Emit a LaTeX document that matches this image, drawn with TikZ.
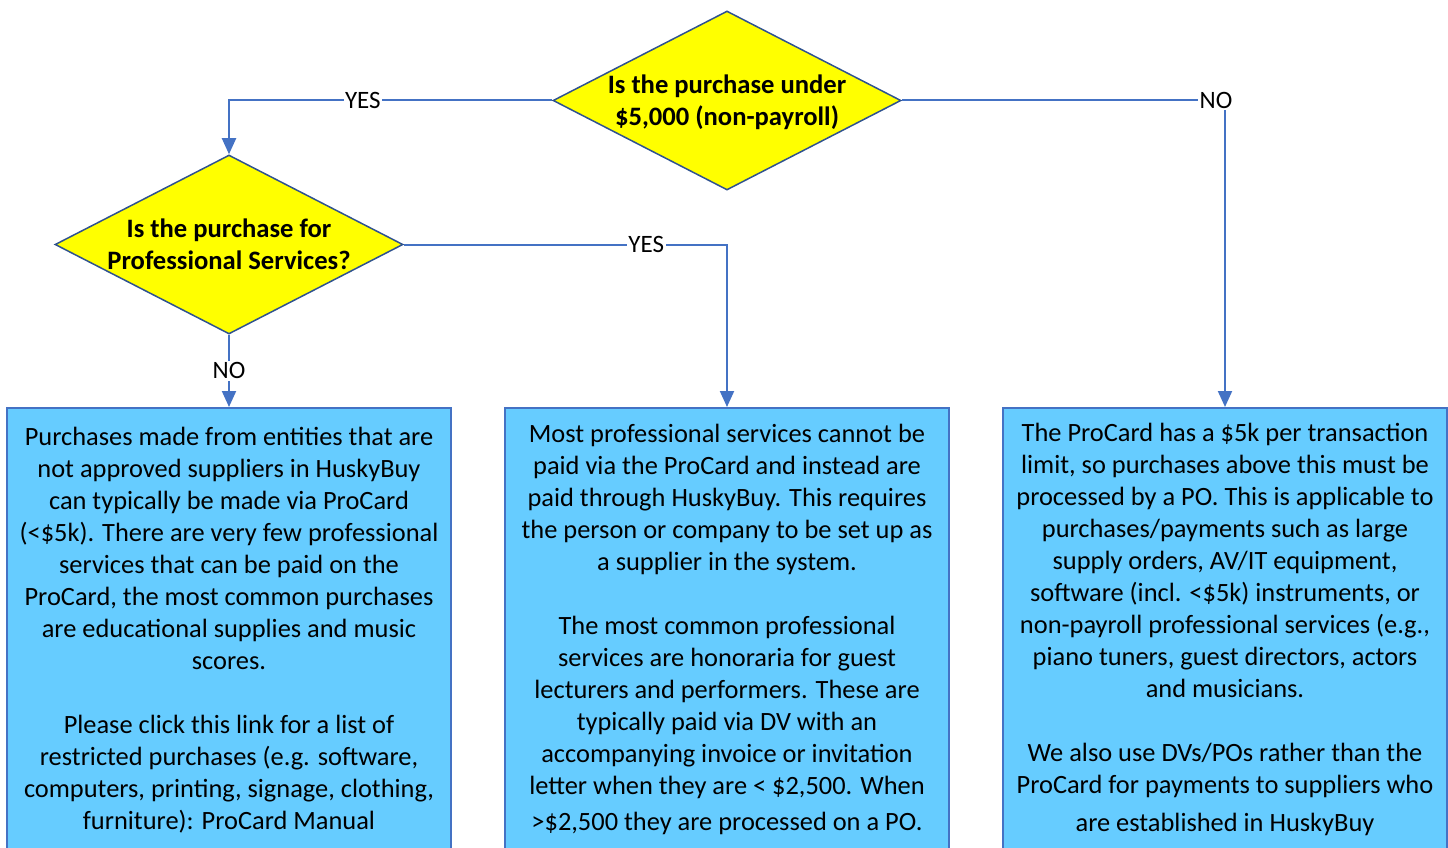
\documentclass[tikz,border=0pt]{standalone}
\usepackage{fontspec}
\setmainfont{Carlito}
\usetikzlibrary{shapes.geometric,arrows.meta}
\definecolor{conn}{HTML}{4472C4}
\definecolor{dborder}{HTML}{2F528F}
\definecolor{boxfill}{HTML}{66CCFF}
\definecolor{qfill}{HTML}{FFFF00}
\begin{document}
\begin{tikzpicture}[x=1pt,y=-1pt,
  dia/.style={shape=diamond, draw=dborder, line width=1.5pt, fill=qfill, minimum width=348pt, minimum height=179pt, inner sep=0pt},
  qtext/.style={align=center, font=\fontsize{26.6}{32}\selectfont\bfseries, inner sep=0pt},
  infobox/.style={draw=conn, line width=2pt, fill=boxfill, minimum width=444pt, minimum height=470pt, anchor=north, inner sep=0pt},
  infotext/.style={align=center, font=\fontsize{26.4}{32}\selectfont, inner sep=0pt, anchor=north},
  conn/.style={draw=conn, line width=2pt, -{Triangle[width=14pt,length=16pt]}},
  lbl/.style={fill=white, inner sep=1.5pt, font=\fontsize{25}{28}\selectfont}
]
\useasboundingbox (0,0) rectangle (1448,848);
\clip (0,0) rectangle (1448,848);

% decisions
\node[dia] (q1) at (727,100.5) {};
\node[qtext] (q1t) at (727,102) {Is the purchase under\\\$5,000 (non-payroll)};
\node[dia] (q2) at (229,244.5) {};
\node[qtext] (q2t) at (229,244) {Is the purchase for\\Professional Services?};

% boxes
\node[infobox] (b1) at (229,407) {};
\node[infobox] (b2) at (727,407) {};
\node[infobox] (b3) at (1225,407) {};

\node[infotext] (t1) at (229,427) {Purchases made from entities that are\\
not approved suppliers in HuskyBuy\\
can typically be made via ProCard\\
(<\$5k). There are very few professional\\
services that can be paid on the\\
ProCard, the most common purchases\\
are educational supplies and music\\
scores.\\[32pt]
Please click this link for a list of\\
restricted purchases (e.g. software,\\
computers, printing, signage, clothing,\\
furniture): ProCard Manual};

\node[infotext] (t2) at (727,423.5) {Most professional services cannot be\\
paid via the ProCard and instead are\\
paid through HuskyBuy. This requires\\
the person or company to be set up as\\
a supplier in the system.\\[32pt]
The most common professional\\
services are honoraria for guest\\
lecturers and performers. These are\\
typically paid via DV with an\\
accompanying invoice or invitation\\
letter when they are < \$2,500. When\\[4pt]
>\$2,500 they are processed on a PO.};

\node[infotext] (t3) at (1225,422.5) {The ProCard has a \$5k per transaction\\
limit, so purchases above this must be\\
processed by a PO. This is applicable to\\
purchases/payments such as large\\
supply orders, AV/IT equipment,\\
software (incl. <\$5k) instruments, or\\
non-payroll professional services (e.g.,\\
piano tuners, guest directors, actors\\
and musicians.\\[32pt]
We also use DVs/POs rather than the\\
ProCard for payments to suppliers who\\[6pt]
are established in HuskyBuy};

% connectors
\draw[conn] (q1.west) -| node[lbl, pos=0.293] {YES} (q2.north);
\draw[conn] (q1.east) -| node[lbl, pos=0.486] {NO} (b3.north);
\draw[conn] (q2.east) -| node[lbl, pos=0.375] {YES} (b2.north);
\draw[conn] (q2.south) -- node[lbl, pos=0.5] {NO} (b1.north);
\end{tikzpicture}
\end{document}
